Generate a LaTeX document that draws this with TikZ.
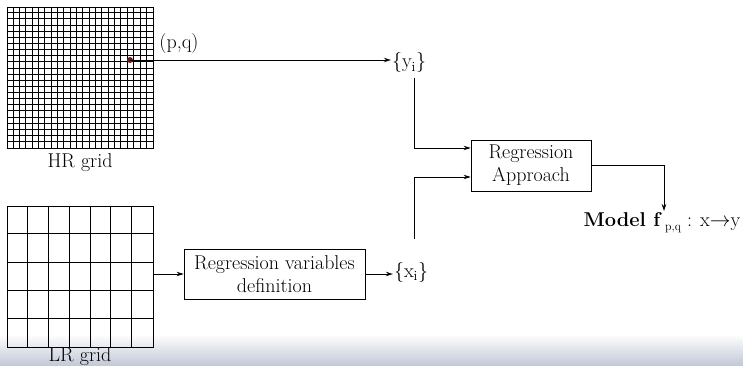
\documentclass[tikz,border=0pt]{standalone}
\usetikzlibrary{arrows.meta,calc}
\definecolor{bandcol}{RGB}{192,199,214}
\definecolor{dotcol}{RGB}{110,20,20}
\begin{document}
\begin{tikzpicture}[x=1pt,y=-1pt,
  txt/.style={inner sep=1pt,font=\fontsize{20}{23}\selectfont},
  boxnode/.style={draw,line width=0.8pt,align=center,inner sep=0pt,font=\fontsize{20}{23}\selectfont},
  gridline/.style={line width=0.8pt},
  arr/.style={line width=0.8pt,-{Stealth[length=7pt,width=4.5pt]}},
  ln/.style={line width=0.8pt}]
\useasboundingbox (0,0) rectangle (743,366);
% bottom band
\shade[top color=white,bottom color=bandcol] (0,334) rectangle (743,366);
% HR grid
\node[draw,gridline,minimum width=146pt,minimum height=141pt,inner sep=0pt] (hr) at (80,77.5) {};
\foreach \i in {1,...,22}{
  \draw[gridline] ($(hr.north west)+(\i*146/23,0)$) -- ($(hr.south west)+(\i*146/23,0)$);
  \draw[gridline] ($(hr.north west)+(0,\i*141/23)$) -- ($(hr.north east)+(0,\i*141/23)$);
}
\node[txt] (hrl) at (80,163) {HR grid};
% LR grid
\node[draw,gridline,minimum width=146pt,minimum height=141pt,inner sep=0pt] (lr) at (80,276.5) {};
\foreach \i in {1,...,6}{
  \draw[gridline] ($(lr.north west)+(\i*146/7,0)$) -- ($(lr.south west)+(\i*146/7,0)$);
}
\foreach \i in {1,...,4}{
  \draw[gridline] ($(lr.north west)+(0,\i*141/5)$) -- ($(lr.north east)+(0,\i*141/5)$);
}
\node[txt] (lrl) at (80,357) {LR grid};
% point
\fill[dotcol] (130,60) circle (3pt);
\coordinate (pt) at (130,60);
\node[txt] (pq) at (179,44) {(p,q)};
% nodes
\node[txt] (yi) at (409,63) {\{y\textsubscript{i}\}};
\node[txt] (xi) at (411,272) {\{x\textsubscript{i}\}};
\node[boxnode,minimum width=181pt,minimum height=50pt] (rv) at (274.5,274) {Regression variables\\definition};
\node[boxnode,minimum width=120pt,minimum height=51pt] (ra) at (531,165.5) {Regression\\Approach};
\node[txt,anchor=north] (model) at (662,211) {\textbf{Model f}\,\raisebox{-0.45ex}{\fontsize{12}{12}\selectfont p,q} : x$\rightarrow$y};
% connectors
\draw[arr] (pt) -- (pt -| yi.west);
\coordinate (ys) at (414,78);
\coordinate (xs) at (414,239);
\draw[arr] (ys) |- ($(ra.west)+(0,-17.5)$);
\draw[arr] (xs) |- ($(ra.west)+(0,11.5)$);
\draw[arr] (rv.west -| lr.east) -- (rv.west);
\draw[arr] (rv.east) -- (rv.east -| xi.west);
\draw[arr] (ra.east) -| (model.north -| 664,0);
\end{tikzpicture}
\end{document}
